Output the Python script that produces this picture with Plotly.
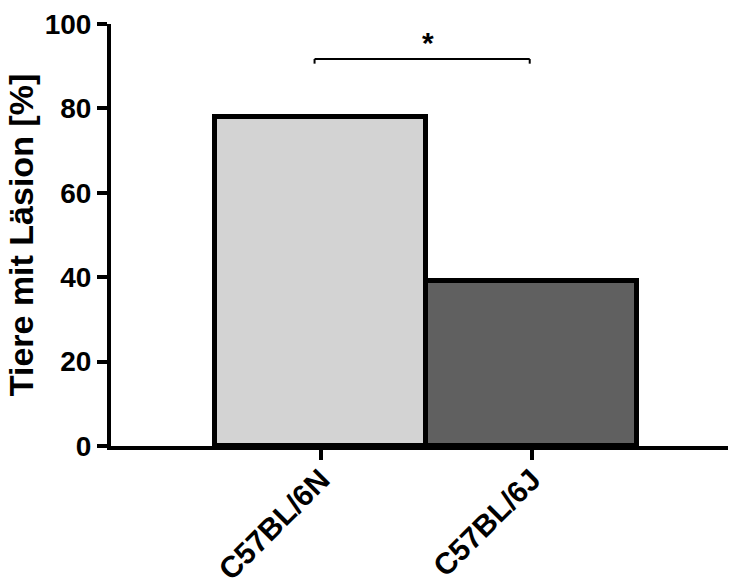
import plotly.graph_objects as go

# Data
strains = ["C57BL/6N", "C57BL/6J"]
lesion_pct = [78, 39]
bar_colors = ["#d3d3d3", "#606060"]
y_ticks = [0, 20, 40, 60, 80, 100]

FONT = "Arial, Liberation Sans, sans-serif"

fig = go.Figure()
fig.add_trace(go.Bar(
    x=list(range(len(strains))),
    y=lesion_pct,
    marker=dict(color=bar_colors, line=dict(color="black", width=5)),
    width=1.0,
    showlegend=False,
))

# significance bracket between the two strains
br_y = 91.7
br_x0, br_x1 = 0 - 0.03, 1 - 0.01
fig.add_shape(type="line", xref="x", yref="y", x0=br_x0, x1=br_x1, y0=br_y, y1=br_y,
              line=dict(color="black", width=2))
fig.add_shape(type="line", xref="x", yref="y", x0=br_x0, x1=br_x0, y0=br_y, y1=br_y - 1.1,
              line=dict(color="black", width=2))
fig.add_shape(type="line", xref="x", yref="y", x0=br_x1, x1=br_x1, y0=br_y, y1=br_y - 1.1,
              line=dict(color="black", width=2))
fig.add_annotation(x=(br_x0 + br_x1) / 2 + 0.03, y=br_y, yref="y", xref="x", text="<b>*</b>",
                   showarrow=False, yanchor="bottom", yshift=-2,
                   font=dict(family=FONT, size=30, color="black"))

fig.update_layout(
    width=734, height=588,
    margin=dict(l=111, r=6, t=24, b=142),
    paper_bgcolor="white", plot_bgcolor="white",
    bargap=0,
    font=dict(family=FONT, color="black"),
    xaxis=dict(
        range=[-0.995, 1.93],
        tickmode="array", tickvals=list(range(len(strains))),
        ticktext=[f"<b>{s}</b>" for s in strains],
        tickangle=-45,
        tickfont=dict(family=FONT, size=30, color="black"),
        ticklabelstandoff=-10,
        showline=True, linecolor="black", linewidth=4,
        ticks="outside", ticklen=10, tickwidth=4, tickcolor="black",
        showgrid=False, zeroline=False, automargin=False,
    ),
    yaxis=dict(
        range=[0, 100],
        tickmode="array", tickvals=y_ticks,
        ticktext=[f"<b>{v}</b>" for v in y_ticks],
        tickfont=dict(family=FONT, size=28, color="black"),
        showline=True, linecolor="black", linewidth=4,
        ticks="outside", ticklen=10, tickwidth=4, tickcolor="black",
        showgrid=False, zeroline=False, automargin=False,
        title=dict(text="<b>Tiere mit Läsion [%]</b>",
                   font=dict(family=FONT, size=34, color="black"), standoff=2),
    ),
)

fig.write_html("out.html")
